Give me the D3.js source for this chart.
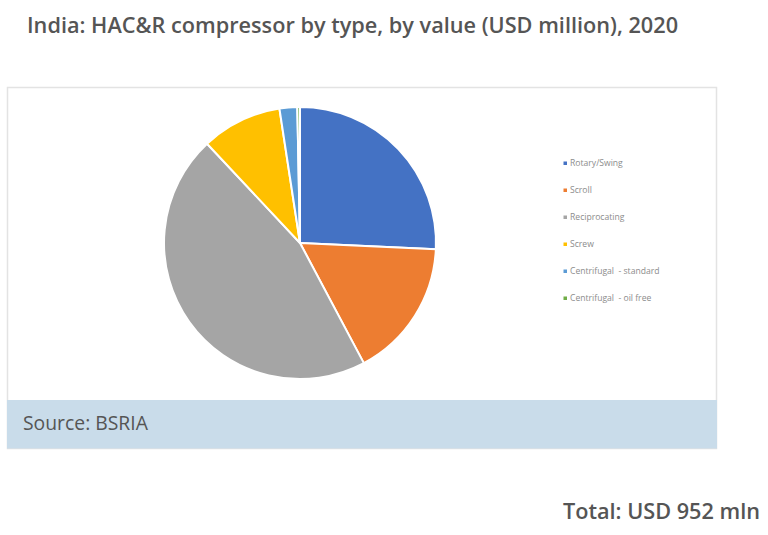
<!DOCTYPE html>
<html><head><meta charset="utf-8">
<script src="https://cdn.jsdelivr.net/npm/d3@7/dist/d3.min.js"></script>
<style>
html,body{margin:0;padding:0;background:#fff;}
svg{display:block;}
.lgt{white-space:pre;}
</style></head>
<body>
<svg id="chart" width="768" height="535"></svg>
<script>
const categories = ["Rotary/Swing","Scroll","Reciprocating","Screw","Centrifugal  - standard","Centrifugal  - oil free"];
const values = [245,157,436,91,20,3];
const colors = ["#4472C4","#ED7D31","#A5A5A5","#FFC000","#5B9BD5","#70AD47"];
const titleText = "India: HAC&R compressor by type, by value (USD million), 2020";
const sourceText = "Source: BSRIA";
const totalText = "Total: USD 952 mln";

const svg = d3.select("#chart");
const font = "'Open Sans', sans-serif";

function fitText(sel, targetW){
  let fs = parseFloat(sel.attr("font-size"));
  for(let i=0;i<6;i++){
    const w = sel.node().getComputedTextLength();
    if(!w) break;
    fs = fs*targetW/w;
    sel.attr("font-size", fs);
  }
}

// title
const t = svg.append("text").attr("x",27).attr("y",33)
  .attr("font-family",font).attr("font-weight",600).attr("font-size",20)
  .attr("fill","#555").text(titleText);
fitText(t, 651);

// frame
svg.append("rect").attr("x",7.5).attr("y",87.5).attr("width",709).attr("height",361)
  .attr("fill","#fff").attr("stroke","#e3e3e3").attr("stroke-width",1.5);
// source band
svg.append("rect").attr("x",7).attr("y",400).attr("width",710).attr("height",48.5)
  .attr("fill","#C9DCEA");
const s = svg.append("text").attr("x",23).attr("y",430)
  .attr("font-family",font).attr("font-size",17).attr("fill","#555").text(sourceText);
fitText(s, 125);

// pie
const cx = 300, cy = 243, r = 136;
const pie = d3.pie().sort(null).value(d=>d.v);
const arc = d3.arc().innerRadius(0).outerRadius(r);
const data = categories.map((c,i)=>({c, v:values[i], col:colors[i]}));
svg.append("g").attr("transform",`translate(${cx},${cy})`)
  .selectAll("path").data(pie(data)).join("path")
  .attr("d",arc).attr("fill",d=>d.data.col)
  .attr("stroke","#fff").attr("stroke-width",2).attr("stroke-linejoin","round");

// legend
const ly = d3.scalePoint().domain(categories).range([163,298]);
const lg = svg.append("g");
categories.forEach((c,i)=>{
  lg.append("rect").attr("x",563.5).attr("y",ly(c)-1.5).attr("width",3.5).attr("height",3.5).attr("fill",colors[i]);
  lg.append("text").attr("class","lgt").attr("x",570).attr("y",ly(c)+3).attr("font-family",font)
    .attr("font-size",8.6).attr("fill","#8c8c8c").text(c);
});

// total
const tt = svg.append("text").attr("x",760).attr("y",519).attr("text-anchor","end")
  .attr("font-family",font).attr("font-weight",600).attr("font-size",20)
  .attr("fill","#555").text(totalText);
fitText(tt, 197);
</script>
</body></html>
